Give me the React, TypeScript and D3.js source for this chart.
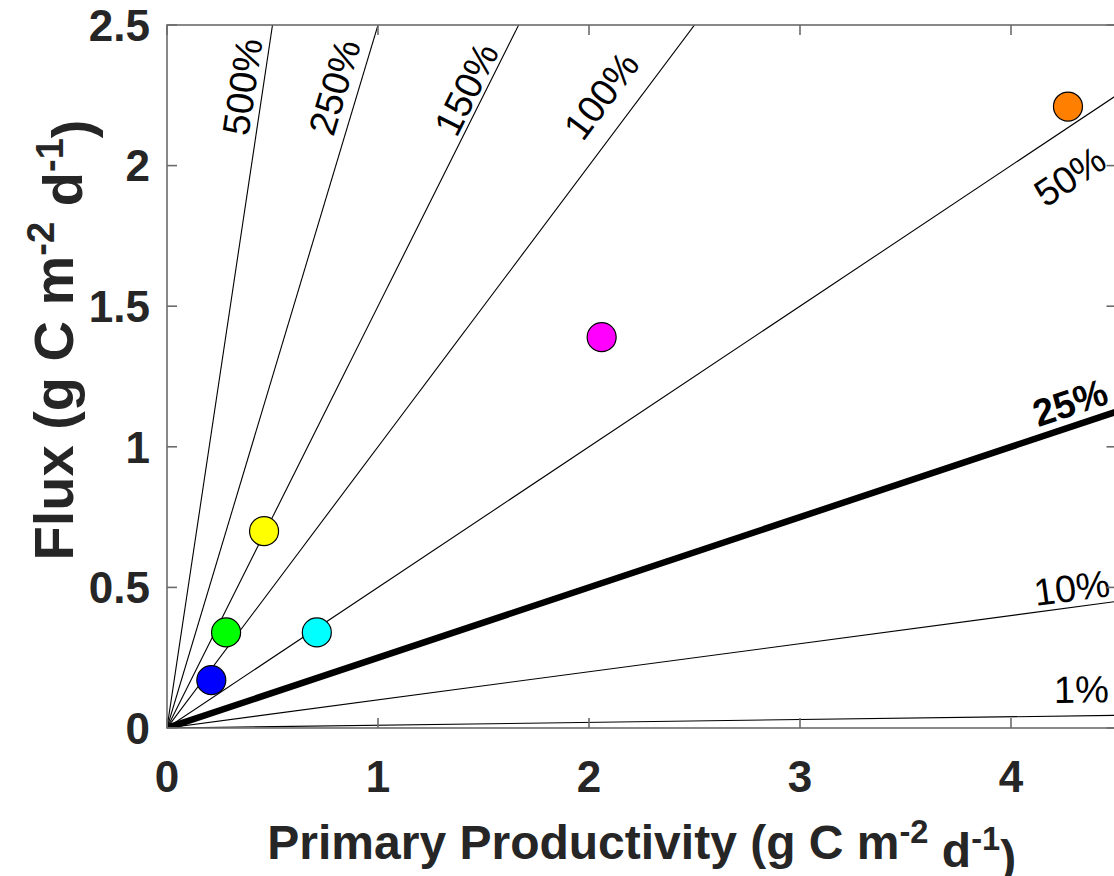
import React, { useEffect, useRef } from 'react';
import * as d3 from 'd3';

// measured stations: primary productivity vs flux
const productivity = [0.21, 0.28, 0.46, 0.71, 2.06, 4.27];
const flux = [0.17, 0.34, 0.70, 0.34, 1.39, 2.21];
const pointColors = ['#0000ff', '#00ff00', '#ffff00', '#00ffff', '#ff00ff', '#ff8000'];

// export ratio reference lines (%)
const ratios = [1, 10, 25, 50, 100, 150, 250, 500];
const ratioLabels = ['1%', '10%', '25%', '50%', '100%', '150%', '250%', '500%'];

const xTicks = [0, 1, 2, 3, 4];
const yTicks = [0, 0.5, 1, 1.5, 2, 2.5];

// label placement: x along the line (data units), offset off the line (px, + = above)
const labelAt = [4.335, 4.3, 4.315, 4.17, 2.18, 1.4955, 0.902, 0.454];
const labelOff = [26.8, 19.8, 23.7, -41.1, 32.6, 18.5, 24.3, 21.0];

const W = 1114;
const H = 876;
const FONT = "'Liberation Sans', Arial, Helvetica, sans-serif";
const AXIS = '#262626';

export default function App() {
  const ref = useRef<SVGSVGElement>(null);

  useEffect(() => {
    const svg = d3.select(ref.current);
    svg.selectAll('*').remove();

    const x = d3.scaleLinear().domain([0, 4.5]).range([167, 1116.5]);
    const y = d3.scaleLinear().domain([0, 2.5]).range([728, 25]);
    const [x0, x1] = x.range();
    const [y0, y1] = y.range();

    svg.append('defs').append('clipPath').attr('id', 'plot')
      .append('rect')
      .attr('x', x0).attr('y', y1)
      .attr('width', x1 - x0).attr('height', y0 - y1);

    const plot = svg.append('g').attr('clip-path', 'url(#plot)');

    // reference lines
    const line = d3.line<[number, number]>().x(d => x(d[0])).y(d => y(d[1]));
    ratios.forEach(r => {
      plot.append('path')
        .datum([[0, 0], [4.5, (r / 100) * 4.5]] as [number, number][])
        .attr('fill', 'none')
        .attr('stroke', '#000')
        .attr('stroke-width', r === 25 ? 6.5 : 1.1)
        .attr('d', line);
    });

    // labels
    ratios.forEach((r, i) => {
      const k = r / 100;
      const ang = (Math.atan2(y(0) - y(k), x(1) - x(0)) * 180) / Math.PI;
      const px = x(labelAt[i]);
      const py = y(labelAt[i] * k);
      svg.append('text')
        .attr('transform', `translate(${px},${py}) rotate(${-ang})`)
        .attr('text-anchor', 'middle')
        .attr('y', -labelOff[i])
        .attr('dy', '0.36em')
        .attr('font-family', FONT)
        .attr('font-size', 38)
        .attr('font-weight', r === 25 ? 'bold' : 'normal')
        .attr('fill', '#000')
        .text(ratioLabels[i]);
    });

    // points
    plot.selectAll('circle.pt')
      .data(productivity.map((p, i) => ({ p, f: flux[i], c: pointColors[i] })))
      .enter()
      .append('circle')
      .attr('class', 'pt')
      .attr('cx', d => x(d.p))
      .attr('cy', d => y(d.f))
      .attr('r', 14.5)
      .attr('fill', d => d.c)
      .attr('stroke', '#000')
      .attr('stroke-width', 1.2);

    // axes box
    const frame = svg.append('g').attr('stroke', '#6b6b6b').attr('stroke-width', 1.6).attr('fill', 'none');
    frame.append('rect').attr('x', x0).attr('y', y1).attr('width', x1 - x0).attr('height', y0 - y1);
    xTicks.forEach(t => {
      frame.append('line').attr('x1', x(t)).attr('x2', x(t)).attr('y1', y0).attr('y2', y0 - 10);
      frame.append('line').attr('x1', x(t)).attr('x2', x(t)).attr('y1', y1).attr('y2', y1 + 10);
    });
    yTicks.forEach(t => {
      frame.append('line').attr('x1', x0).attr('x2', x0 + 10).attr('y1', y(t)).attr('y2', y(t));
      frame.append('line').attr('x1', x1).attr('x2', x1 - 10).attr('y1', y(t)).attr('y2', y(t));
    });

    // tick labels
    svg.append('g').selectAll('text').data(xTicks).enter().append('text')
      .attr('x', d => x(d)).attr('y', y0 + 64)
      .attr('text-anchor', 'middle')
      .attr('font-family', FONT).attr('font-weight', 'bold').attr('font-size', 44)
      .attr('fill', AXIS)
      .text(d => String(d));
    svg.append('g').selectAll('text').data(yTicks).enter().append('text')
      .attr('x', x0 - 17).attr('y', d => y(d)).attr('dy', '0.36em')
      .attr('text-anchor', 'end')
      .attr('font-family', FONT).attr('font-weight', 'bold').attr('font-size', 44)
      .attr('fill', AXIS)
      .text(d => String(d));

    // axis titles with superscripts
    const title = (g: d3.Selection<SVGTextElement, unknown, null, undefined>, name: string) => {
      g.append('tspan').text(`${name} (g C m`);
      g.append('tspan').attr('dy', '-0.5em').attr('font-size', '0.68em').text('-2');
      g.append('tspan').attr('dy', '0.5em').text(' d');
      g.append('tspan').attr('dy', '-0.5em').attr('font-size', '0.68em').text('-1');
      g.append('tspan').attr('dy', '0.5em').text(')');
    };
    const xt = svg.append('text')
      .attr('x', (x0 + x1) / 2).attr('y', 859)
      .attr('text-anchor', 'middle')
      .attr('font-family', FONT).attr('font-weight', 'bold').attr('font-size', 48)
      .attr('fill', AXIS);
    title(xt, 'Primary Productivity');
    const yt = svg.append('text')
      .attr('transform', `translate(73,340) rotate(-90)`)
      .attr('text-anchor', 'middle')
      .attr('font-family', FONT).attr('font-weight', 'bold').attr('font-size', 56)
      .attr('fill', AXIS);
    title(yt, 'Flux');
  }, []);

  return (
    <div>
      <style>{'body{margin:0;background:#fff}'}</style>
      <svg ref={ref} width={W} height={H} style={{ display: 'block' }} />
    </div>
  );
}
